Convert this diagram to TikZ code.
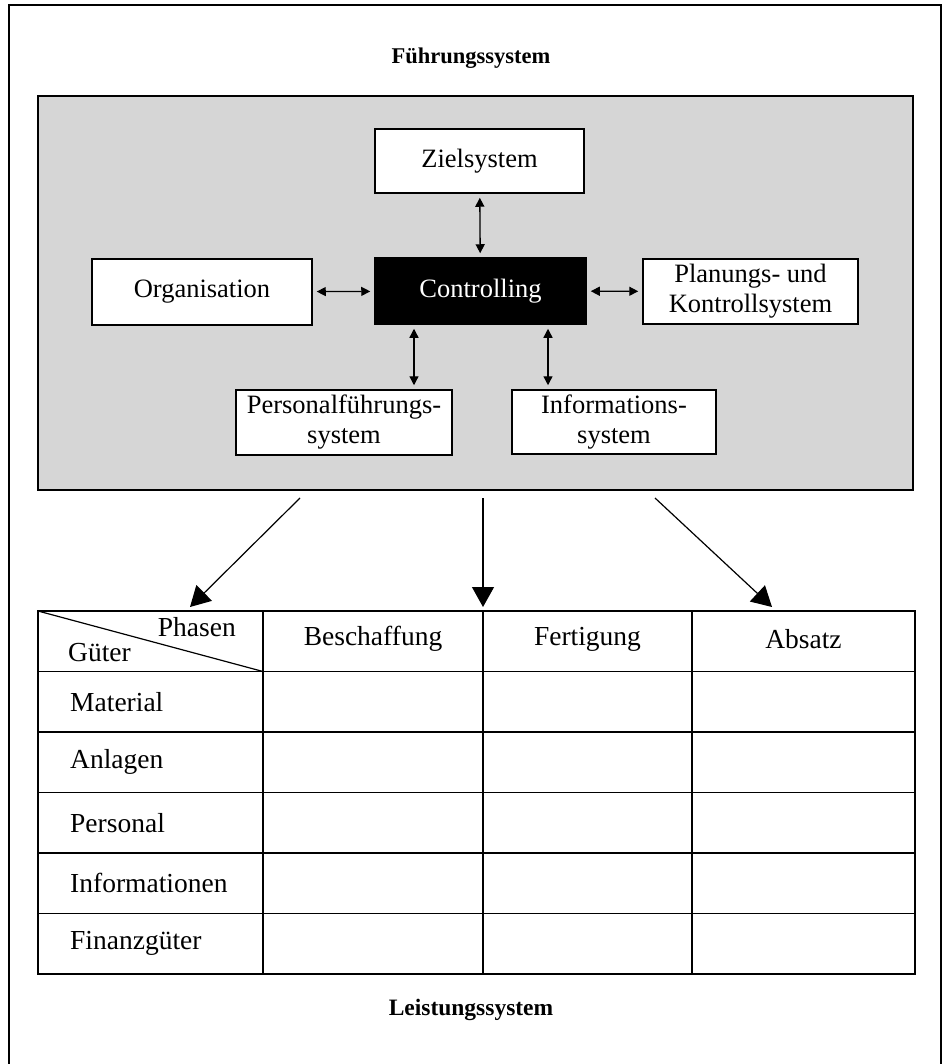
\documentclass[tikz,border=0pt]{standalone}
\usepackage{fontspec}
\setmainfont{Liberation Serif}
\usetikzlibrary{arrows.meta,positioning}
\tikzset{
  box/.style={draw,line width=1.5pt,fill=white,inner sep=0pt,align=center,
    font=\fontsize{26.5}{30}\selectfont},
  ctrlbox/.style={box,fill=black,text=white},
  panel/.style={draw,line width=2pt,fill=black!16,inner sep=0pt},
  biarrow/.style={{Triangle[length=9pt,width=9pt]}-{Triangle[length=9pt,width=9pt]},
    line width=1.3pt,shorten >=4pt,shorten <=4pt},
  bigarrow/.style={-{Triangle[length=20pt,width=22pt]},line width=1.2pt},
  tabline/.style={line width=1.5pt},
  cell/.style={inner sep=0pt,font=\fontsize{27.5}{30}\selectfont},
  heading/.style={font=\fontsize{22.5}{26}\selectfont\bfseries}
}

\begin{document}
\begin{tikzpicture}[x=1pt,y=-1pt]
\useasboundingbox (0,0) rectangle (943,1064);
% outer frame, open at the bottom
\draw[line width=2pt] (9,1064) -- (9,5) -- (941,5) -- (941,1064);

\node[heading] (fstitel) at (471,58) {Führungssystem};
\node[panel,minimum width=875pt,minimum height=394pt] (fuehrung) at (475.5,293) {};

\node[box,minimum width=209pt,minimum height=64pt] (ziel) at (479.5,161) {Zielsystem};
\node[ctrlbox,minimum width=211pt,minimum height=66pt] (contr) at (480.5,291) {Controlling};
\node[box,minimum width=220pt,minimum height=66pt] (org) at (202,292) {Organisation};
\node[box,minimum width=215pt,minimum height=65pt] (plan) at (750.5,291.5) {Planungs- und\\Kontrollsystem};
\node[box,minimum width=216pt,minimum height=65pt] (pers) at (344,422.5) {Personalführungs-\\system};
\node[box,minimum width=204pt,minimum height=64pt] (info) at (614,422) {Informations-\\system};

\path[biarrow]
    (ziel) edge (contr)
    (org)  edge (contr)
    (contr) edge (plan)
    ([xshift=70pt]pers.north |- contr.south) edge ([xshift=70pt]pers.north)
    ([xshift=-66pt]info.north |- contr.south) edge ([xshift=-66pt]info.north)
;

% arrows down to the table
\coordinate (spitzeL) at (190,607);
\coordinate (spitzeM) at (483,607);
\coordinate (spitzeR) at (772,607);
\draw[bigarrow] ([xshift=-175.5pt,yshift=-7pt]fuehrung.south) -- (spitzeL);
\draw[bigarrow] ([xshift=7.5pt,yshift=-7pt]fuehrung.south) -- (spitzeM);
\draw[bigarrow] ([xshift=179.5pt,yshift=-7pt]fuehrung.south) -- (spitzeR);

% table
\draw[tabline] (38,611) rectangle (915,974);
\foreach \x in {263,483,692}
    \draw[tabline] (\x,611) -- (\x,974);
\foreach \i in {1,...,5}
    \draw[tabline] (38,{611+60.5*\i}) -- (915,{611+60.5*\i});
\draw[line width=1.2pt] (38,611) -- (263,671.5);

\node[cell,anchor=east] (phasen) at (236,627) {Phasen};
\node[cell,anchor=west] (gueter) at (68,653) {Güter};
\node[cell] (besch) at (373,639) {Beschaffung};
\node[cell] (fert) at (587.5,639) {Fertigung};
\node[cell] (absatz) at (803.5,639) {Absatz};

\foreach \name/\txt [count=\i] in {mat/Material,anl/Anlagen,pers/Personal,inf/Informationen,fin/Finanzgüter}
    \node[cell,anchor=west] (row\name) at (70,{641.25+60.5*\i}) {\txt};

\node[heading,font=\fontsize{23.5}{26}\selectfont\bfseries] (lstitel) at (471,1010) {Leistungssystem};
\end{tikzpicture}
\end{document}
